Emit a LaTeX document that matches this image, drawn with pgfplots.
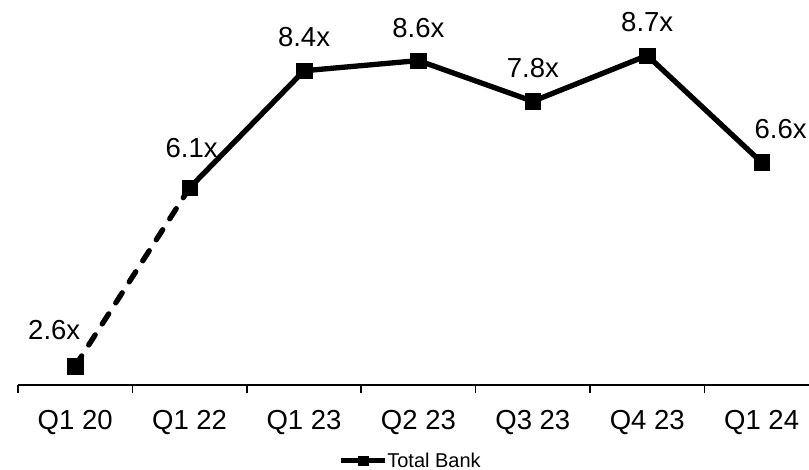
\documentclass[border=0pt]{standalone}
\usepackage{fontspec}
\setmainfont{Liberation Sans}
\usepackage{pgfplots}
\usepackage{pgfplotstable}
\pgfplotsset{compat=1.18}
\pgfplotstableread{
x y lab
0 2.6 2.6x
1 6.1 6.1x
2 8.4 8.4x
3 8.6 8.6x
4 7.8 7.8x
5 8.7 8.7x
6 6.6 6.6x
}\datatable
\pgfplotsset{
  lbl/.style 2 args={forget plot, draw=none, mark=none,
    nodes near coords, point meta=explicit symbolic,
    every node near coord/.append style={anchor=center, xshift=#1, yshift=#2,
      inner sep=0pt, font=\fontsize{27.5bp}{32bp}\selectfont, black}},
}
\begin{document}
\begin{tikzpicture}
\useasboundingbox (0,0) rectangle (809bp,470bp);
\begin{axis}[
  at={(18bp,85bp)}, anchor=south west,
  scale only axis, width=791bp, height=385bp,
  xmin=-0.5, xmax=6.414, ymin=2.227, ymax=9.79,
  axis x line*=bottom, hide y axis,
  axis line style={line width=1.7bp, black},
  xtick={0,...,6},
  xticklabels={Q1 20,Q1 22,Q1 23,Q2 23,Q3 23,Q4 23,Q1 24},
  major tick length=0pt,
  minor xtick={-0.5,0.5,1.5,2.5,3.5,4.5,5.5},
  minor tick length=8bp,
  tick align=outside,
  tick style={line width=1.7bp, black},
  xticklabel style={font=\fontsize{27.5bp}{32bp}\selectfont, anchor=center, yshift=-37bp},
  clip=false,
  legend style={at={(0.495,-0.197)}, anchor=center, draw=none, fill=none,
    font=\fontsize{20bp}{23bp}\selectfont, inner sep=0pt,
    nodes={inner sep=0bp, xshift=5bp}},
  legend image code/.code={
    \draw[line width=5bp] (0bp,0bp) -- (44bp,0bp);
    \fill (17bp,-4.5bp) rectangle (27bp,4.5bp);
  },
]
\addplot[forget plot, black, line width=5.3bp, line cap=round, dash pattern=on 12bp off 13bp, restrict x to domain=0:1] table[x=x,y=y] {\datatable};
\addplot[forget plot, black, line width=5.3bp, restrict x to domain=1:6] table[x=x,y=y] {\datatable};
\addplot[lbl={-21bp}{36bp}, restrict x to domain=0:0] table[x=x,y=y,meta=lab] {\datatable};
\addplot[lbl={2bp}{40bp}, restrict x to domain=1:1] table[x=x,y=y,meta=lab] {\datatable};
\addplot[lbl={0bp}{34bp}, restrict x to domain=2:2] table[x=x,y=y,meta=lab] {\datatable};
\addplot[lbl={0bp}{33bp}, restrict x to domain=3:5] table[x=x,y=y,meta=lab] {\datatable};
\addplot[lbl={19bp}{33bp}, restrict x to domain=6:6] table[x=x,y=y,meta=lab] {\datatable};
\addplot[only marks, mark=square*, mark size=7.8bp, mark options={black, fill=black, line width=0.3bp}]
  table[x=x,y=y] {\datatable};
\addlegendentry{Total Bank}
\end{axis}
\end{tikzpicture}
\end{document}
